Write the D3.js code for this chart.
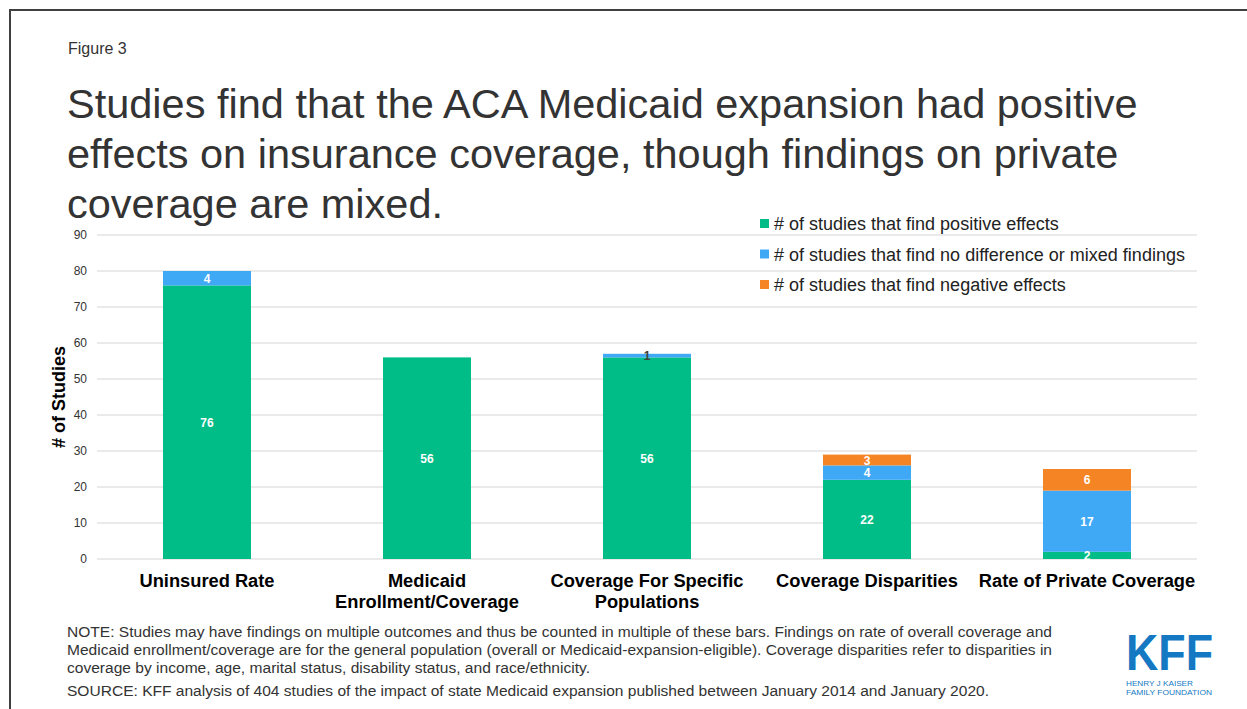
<!DOCTYPE html>
<html><head><meta charset="utf-8">
<script src="https://cdn.jsdelivr.net/npm/d3@7"></script>
<style>
html,body{margin:0;padding:0;background:#fff;}
svg{display:block;font-family:"Liberation Sans",Arial,sans-serif;}
</style></head>
<body>
<svg id="chart" width="1247" height="709"></svg>
<script>
const categories = [["Uninsured Rate"], ["Medicaid", "Enrollment/Coverage"], ["Coverage For Specific", "Populations"], ["Coverage Disparities"], ["Rate of Private Coverage"]];
const positive = [76, 56, 56, 22, 2];
const mixed = [4, 0, 1, 4, 17];
const negative = [0, 0, 0, 3, 6];
const seriesNames = ["# of studies that find positive effects", "# of studies that find no difference or mixed findings", "# of studies that find negative effects"];
const seriesColors = ["#00BC87", "#3FA9F5", "#F58424"];
const yTicks = [0, 10, 20, 30, 40, 50, 60, 70, 80, 90];

const svg = d3.select("#chart");

// frame
svg.append("path").attr("d", "M10,720 L10,10 L1260,10").attr("fill", "none").attr("stroke", "#404040").attr("stroke-width", 2);

svg.append("text").attr("x", 68).attr("y", 54).attr("font-size", 16).attr("fill", "#333").text("Figure 3");
const titleLines = ["Studies find that the ACA Medicaid expansion had positive", "effects on insurance coverage, though findings on private", "coverage are mixed."];
svg.append("g").selectAll("text").data(titleLines).join("text")
  .attr("x", 67).attr("y", (d, i) => 118 + i * 50).attr("font-size", 41.5).attr("fill", "#333").text(d => d);

const x = d3.scaleBand().domain(d3.range(categories.length)).range([97, 1197]).paddingInner(0.6).paddingOuter(0.3);
const y = d3.scaleLinear().domain([0, 90]).range([559, 235]);

// gridlines
svg.append("g").selectAll("line").data(yTicks).join("line")
  .attr("x1", 97).attr("x2", 1197).attr("y1", d => y(d)).attr("y2", d => y(d))
  .attr("stroke", "#e3e3e3").attr("stroke-width", 1.5);

const yAxis = svg.append("g").attr("transform", "translate(97,0)")
  .call(d3.axisLeft(y).tickValues(yTicks).tickSize(0).tickPadding(10));
yAxis.select(".domain").remove();
yAxis.selectAll("text").attr("font-size", 12).attr("fill", "#333").attr("font-family", "Liberation Sans, Arial, sans-serif");

svg.append("text").attr("transform", "translate(65,397) rotate(-90)").attr("text-anchor", "middle")
  .attr("font-size", 18).attr("font-weight", "bold").attr("fill", "#000").text("# of Studies");

// stacked bars
const rows = positive.map((p, i) => ({ i, positive: p, mixed: mixed[i], negative: negative[i] }));
const stack = d3.stack().keys(["positive", "mixed", "negative"])(rows);
const gBars = svg.append("g");
stack.forEach((layer, si) => {
  gBars.append("g").selectAll("rect").data(layer.filter(d => d[1] - d[0] > 0)).join("rect")
    .attr("x", d => x(d.data.i)).attr("width", x.bandwidth())
    .attr("y", d => y(d[1])).attr("height", d => y(d[0]) - y(d[1]))
    .attr("fill", seriesColors[si]);
});
stack.forEach((layer, si) => {
  gBars.append("g").selectAll("text").data(layer.filter(d => d[1] - d[0] > 0)).join("text")
    .attr("x", d => x(d.data.i) + x.bandwidth() / 2)
    .attr("y", d => (y(d[0]) + y(d[1])) / 2 + 4.5)
    .attr("text-anchor", "middle").attr("font-size", 12).attr("font-weight", "bold")
    .attr("fill", d => (d[1] - d[0]) <= 1 ? "#404040" : "#fff")
    .text(d => d[1] - d[0]);
});

// category labels
const gCat = svg.append("g");
categories.forEach((lines, i) => {
  gCat.append("text").attr("x", x(i) + x.bandwidth() / 2).attr("y", 587).attr("text-anchor", "middle")
    .attr("font-size", 18.3).attr("font-weight", "bold").attr("fill", "#000")
    .selectAll("tspan").data(lines).join("tspan")
    .attr("x", x(i) + x.bandwidth() / 2).attr("dy", (d, j) => j === 0 ? 0 : 21).text(d => d);
});

// legend
const leg = svg.append("g");
seriesNames.forEach((n, i) => {
  const ly = 224 + i * 30.5;
  leg.append("rect").attr("x", 760).attr("y", ly - 5).attr("width", 9).attr("height", 9).attr("fill", seriesColors[i]);
  leg.append("text").attr("x", 774).attr("y", ly + 6).attr("font-size", 18).attr("fill", "#222").text(n);
});

// notes
const notes = [
  "NOTE: Studies may have findings on multiple outcomes and thus be counted in multiple of these bars. Findings on rate of overall coverage and",
  "Medicaid enrollment/coverage are for the general population (overall or Medicaid-expansion-eligible). Coverage disparities refer to disparities in",
  "coverage by income, age, marital status, disability status, and race/ethnicity."
];
const noteLens = [985, 985, 523];
svg.append("g").selectAll("text").data(notes).join("text")
  .attr("x", 67).attr("y", (d, i) => 637 + i * 18).attr("font-size", 15.3).attr("fill", "#333")
  .attr("textLength", (d, i) => noteLens[i]).attr("lengthAdjust", "spacingAndGlyphs")
  .text(d => d);
svg.append("text").attr("x", 67).attr("y", 696).attr("font-size", 15.3).attr("fill", "#333")
  .attr("textLength", 922).attr("lengthAdjust", "spacingAndGlyphs")
  .text("SOURCE: KFF analysis of 404 studies of the impact of state Medicaid expansion published between January 2014 and January 2020.");

// logo
const logo = svg.append("g").attr("fill", "#1479C2");
logo.append("text").attr("x", 1126).attr("y", 670).attr("font-size", 50).attr("font-weight", "bold")
  .attr("textLength", 87).attr("lengthAdjust", "spacingAndGlyphs").text("KFF");
logo.append("text").attr("x", 1126).attr("y", 686).attr("font-size", 8).attr("textLength", 67).attr("lengthAdjust", "spacingAndGlyphs").text("HENRY J KAISER");
logo.append("text").attr("x", 1126).attr("y", 694.5).attr("font-size", 8).attr("textLength", 86).attr("lengthAdjust", "spacingAndGlyphs").text("FAMILY FOUNDATION");
</script>
</body></html>
